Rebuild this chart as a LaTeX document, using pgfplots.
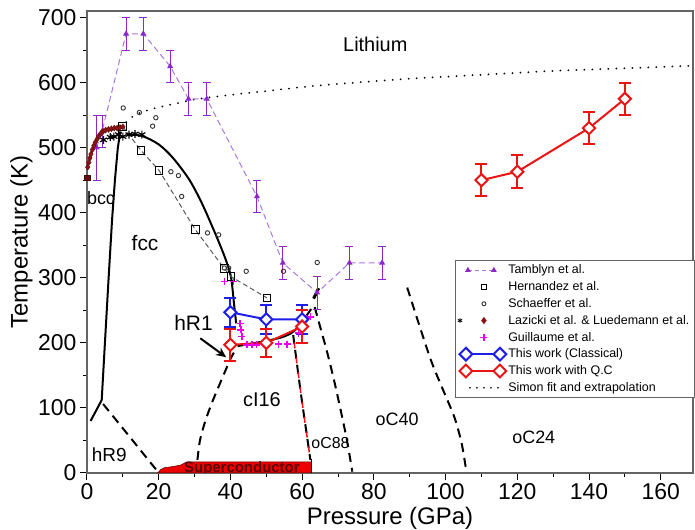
\documentclass[border=0pt]{standalone}
\usepackage{pgfplots}
\pgfplotsset{compat=1.18}
\usepackage{fontspec}
\setmainfont{Liberation Sans}
\usetikzlibrary{arrows.meta}
\definecolor{tline}{RGB}{170,120,225}
\definecolor{tmark}{RGB}{140,40,200}
\definecolor{dred}{RGB}{140,20,20}
\definecolor{gline}{RGB}{90,90,90}
\definecolor{myblue}{RGB}{30,30,235}
\definecolor{myred}{RGB}{235,20,20}
\definecolor{mymag}{RGB}{235,0,235}
\definecolor{scred}{RGB}{235,0,0}
\definecolor{sctext}{RGB}{90,0,0}
\definecolor{axgray}{RGB}{100,100,100}
\tikzset{phase/.style={black, line width=2bp, dash pattern=on 9bp off 6bp}}
\begin{document}
\begin{tikzpicture}
\begin{axis}[
  scale only axis, width=606bp, height=462bp,
  xmin=0, xmax=169, ymin=0, ymax=710,
  xtick={0,20,...,160}, minor xtick={10,30,...,150},
  ytick={0,100,...,700}, minor ytick={50,150,...,650},
  tick pos=left, tick align=outside,
  major tick length=7bp, minor tick length=4bp,
  axis line style={draw=axgray, line width=1.2bp},
  tick style={black, line width=1bp},
  ticklabel style={font=\fontsize{23}{23}\selectfont},
  /pgf/number format/assume math mode=true,
  xlabel={Pressure (GPa)}, ylabel={Temperature (K)},
  label style={font=\fontsize{24}{26}\selectfont, inner sep=0pt},
  xlabel style={at={(axis description cs:0.5,-0.099)}, anchor=center},
  ylabel style={at={(axis description cs:-0.108,0.5)}, anchor=center},
  legend style={at={(0.607,0.461)}, anchor=north west, draw=axgray, line width=0.8bp,
    font=\fontsize{12.5}{13}\selectfont, row sep=2.3bp, inner sep=2.5bp, cells={anchor=west}},
]
% superconductor region
\addplot[fill=scred, draw=sctext, line width=0.5bp, forget plot] coordinates {
 (19.7,0) (20.5,5) (21.5,8) (24,10) (26,12) (27.8,17) (62.6,17) (62.6,0)} -- cycle;
\addplot[black, line width=1.5bp, forget plot] coordinates {(62.6,0) (62.6,22)};
% solid phase lines
\addplot[black, line width=2bp, forget plot] coordinates {(1.0,80) (4.1,112) (5.0,200) (6.0,297) (7.0,390) (7.8,451) (8.6,500) (9.3,525)};
\addplot[black, line width=2bp, smooth, forget plot] coordinates {(11,520) (15.3,518) (20,505) (24,484) (28.5,451) (32,415) (35.3,374) (37.5,345) (39,323) (40.2,300) (41,260) (41.6,230)};
\addplot[black, line width=2bp, smooth, forget plot] coordinates {(42,195) (46,199) (50,203) (54,208) (57,215) (59,225) (61,240) (62.5,252)};
\addplot[black, line width=3bp, forget plot] coordinates {(63.2,268) (64.6,284)};
% dashed phase lines
\addplot[phase, forget plot] coordinates {(4.5,106) (12,55) (19.6,3)};
\addplot[phase, smooth, forget plot] coordinates {(30.8,20) (31.5,50) (33,80) (35,110) (37.5,143) (40,175) (41.5,190)};
\addplot[phase, smooth, forget plot] coordinates {(57.5,212) (58.5,170) (59.7,120) (61,70) (62.3,20)};
\addplot[myred, line width=1.5bp, dash pattern=on 6bp off 9bp, dash phase=7.5bp, smooth, forget plot] coordinates {(57.5,212) (58.5,170) (59.7,120) (61,70) (62.3,20)};
\addplot[phase, smooth, forget plot] coordinates {(63.5,255) (65,225) (67,185) (69,140) (71,90) (72.5,50) (74,2)};
\addplot[phase, smooth, forget plot] coordinates {(89.3,285) (92.5,230) (96,172) (99.5,125) (102.5,85) (104.5,45) (105.8,2)};
% Simon fit
\addplot[black, line width=2bp, line cap=round, dash pattern=on 0bp off 8bp, smooth, forget plot] coordinates {
 (9.5,530) (12,545) (15,554) (20,562) (25,568) (30,574) (40,581) (50,587) (60,593) (70,598) (80,602)
 (90,606) (100,609) (110,612) (120,615) (130,618) (140,620) (150,622) (160,624) (169,626)};
% Tamblyn
\addplot[tline, line width=1bp, dash pattern=on 6bp off 3.5bp, mark=triangle*, mark size=2.5bp,
  mark options={solid, fill=tmark, draw=tmark}, forget plot,
  error bars/.cd, y dir=both, y explicit,
  error bar style={tmark, solid, line width=1bp},
  error mark options={rotate=90, tmark, solid, mark size=4bp, line width=1bp}]
 coordinates {(2.7,500) +- (0,50) (4.2,525) +- (0,25) (10.9,675) +- (0,25) (15.7,675) +- (0,25)
 (23.2,625) +- (0,25) (28.3,575) +- (0,25) (33.4,575) +- (0,25) (47.4,425) +- (0,25)
 (54.6,323) +- (0,25) (64.2,277) +- (0,25) (73.2,323) +- (0,25) (82.3,323) +- (0,25)};
% Hernandez
\addplot[gline, line width=1bp, dash pattern=on 5bp off 3bp, mark=square, mark size=3.8bp,
  mark options={solid, black, line width=0.9bp}, forget plot]
 coordinates {(9.9,533) (15,496) (20.1,465) (30.2,374) (38.3,314) (40.1,302) (50.2,269)};
\addplot[only marks, mark=square*, mark size=2.8bp, mark options={fill=dred!70!black, draw=dred!50!black}, forget plot]
 coordinates {(0,454)};
% Schaeffer
\addplot[only marks, mark=o, mark size=2.2bp, mark options={black!80, line width=0.9bp}, forget plot]
 coordinates {(10.1,561) (14.6,554) (19.2,546) (18.3,533) (23.4,463) (25.5,457) (26.4,425)
 (33.6,369) (36.7,366) (38.3,315) (39.5,315) (44.4,310) (54.8,310) (64.2,323.5)};
% Lazicki (diamonds) & Luedemann (stars)
\addplot[only marks, mark=diamond*, mark size=3bp, mark options={fill=dred, draw=dred!70!black}, forget plot]
 coordinates {(0.2,470) (0.5,477) (0.8,484) (1.1,490) (1.5,497) (1.9,503) (2.3,508) (2.8,513)
 (3.3,518) (3.9,522) (4.5,525) (5.2,527) (6.0,528) (6.8,529) (7.6,530) (8.4,530) (9.2,531) (10,532)};
\addplot[only marks, mark=asterisk, mark size=4bp, mark options={black, line width=1.2bp}, forget plot]
 coordinates {(4.6,512) (6.5,516) (7.5,517) (8.8,520) (10,517) (11.7,520) (13.4,521) (15.3,520)};
% Guillaume
\addplot[only marks, mark=+, mark size=3.5bp, mark options={mymag, line width=1.4bp}, forget plot]
 coordinates {(38.3,294) (40.9,294) (42.7,230) (42.9,220) (43.2,210) (44.6,197) (46,197) (47.3,197)
 (53.4,198) (55.8,198) (59,215) (61.2,238) (62.3,240)};
% This work classical
\addplot[myblue, line width=2bp, mark=square*, mark size=4.3bp, mark options={rotate=45, fill=white}, forget plot,
  error bars/.cd, y dir=both, y explicit,
  error bar style={myblue, line width=2bp},
  error mark options={rotate=90, myblue, mark size=6bp, line width=2bp}]
 coordinates {(40,247) +- (0,22) (50,236) +- (0,22) (60,236) +- (0,22)};
% This work with Q.C
\addplot[myred, line width=2bp, mark=square*, mark size=4.3bp, mark options={rotate=45, fill=white}, forget plot,
  error bars/.cd, y dir=both, y explicit,
  error bar style={myred, line width=2bp},
  error mark options={rotate=90, myred, mark size=6bp, line width=2bp}]
 coordinates {(40,197) +- (0,25) (50,200) +- (0,22) (60,225) +- (0,25)};
\addplot[myred, line width=2bp, mark=square*, mark size=4.3bp, mark options={rotate=45, fill=white}, forget plot,
  error bars/.cd, y dir=both, y explicit,
  error bar style={myred, line width=2bp},
  error mark options={rotate=90, myred, mark size=6bp, line width=2bp}]
 coordinates {(110,450) +- (0,25) (120,463) +- (0,25) (140,530) +- (0,25) (150,575) +- (0,25)};
% annotations
\draw[-{Stealth[length=10bp,width=9bp]}, line width=2bp] (axis cs:31.6,207) -- (axis cs:38.8,178);
\node[font=\fontsize{20}{20}\selectfont] at (axis cs:80.4,659) {Lithium};
\node[font=\fontsize{18}{18}\selectfont] at (axis cs:3.9,423) {bcc};
\node[font=\fontsize{21}{21}\selectfont] at (axis cs:16.2,353) {fcc};
\node[font=\fontsize{21}{21}\selectfont] at (axis cs:29.7,230) {hR1};
\node[font=\fontsize{20}{20}\selectfont] at (axis cs:48.8,112) {cI16};
\node[font=\fontsize{19}{19}\selectfont] at (axis cs:6.2,28) {hR9};
\node[font=\fontsize{16}{16}\selectfont] at (axis cs:67.9,46) {oC88};
\node[font=\fontsize{18}{18}\selectfont] at (axis cs:86.5,82) {oC40};
\node[font=\fontsize{18}{18}\selectfont] at (axis cs:124.6,55) {oC24};
\node[font=\bfseries\fontsize{15}{15}\selectfont, text=sctext] at (axis cs:43.2,7) {Superconductor};
% legend
\addlegendimage{legend image code/.code={
  \draw[tline, line width=1bp, dash pattern=on 4bp off 3bp] (5bp,0) -- (31bp,0);
  \draw[tmark, fill=tmark] plot[only marks, mark=triangle*, mark size=2.5bp] coordinates {(5bp,0) (31bp,0)};}}
\addlegendentry{Tamblyn et al.}
\addlegendimage{legend image code/.code={
  \draw[black, line width=1.2bp] plot[only marks, mark=square, mark size=2.5bp] coordinates {(21bp,0)};}}
\addlegendentry{Hernandez et al.}
\addlegendimage{legend image code/.code={
  \draw[black!80, line width=0.9bp] plot[only marks, mark=o, mark size=2bp] coordinates {(21bp,0)};}}
\addlegendentry{Schaeffer et al.}
\addlegendimage{legend image code/.code={
  \draw[black, line width=0.8bp] plot[only marks, mark=asterisk, mark size=2.5bp] coordinates {(-3bp,0)};
  \draw[dred, fill=dred] plot[only marks, mark=diamond*, mark size=3bp] coordinates {(21bp,0)};}}
\addlegendentry{Lazicki et al. \& Luedemann et al.}
\addlegendimage{legend image code/.code={
  \draw[mymag, line width=1.4bp] plot[only marks, mark=+, mark size=3.5bp] coordinates {(21bp,0)};}}
\addlegendentry{Guillaume et al.}
\addlegendimage{legend image code/.code={
  \draw[myblue, line width=2bp] (3bp,0) -- (37bp,0);
  \draw[myblue, line width=2bp, fill=white] plot[only marks, mark=square*, mark size=4.5bp, mark options={rotate=45}] coordinates {(3bp,0) (37bp,0)};}}
\addlegendentry{This work (Classical)}
\addlegendimage{legend image code/.code={
  \draw[myred, line width=2bp] (3bp,0) -- (37bp,0);
  \draw[myred, line width=2bp, fill=white] plot[only marks, mark=square*, mark size=4.5bp, mark options={rotate=45}] coordinates {(3bp,0) (37bp,0)};}}
\addlegendentry{This work with Q.C}
\addlegendimage{legend image code/.code={
  \draw[black, line width=1.8bp, line cap=round, dash pattern=on 0bp off 7bp] (7bp,0) -- (36bp,0);}}
\addlegendentry{Simon fit and extrapolation}
\end{axis}
\pgfresetboundingbox
\path ([shift={(-87bp,-57bp)}]current axis.south west) rectangle ([shift={(2bp,11bp)}]current axis.north east);
\end{tikzpicture}
\end{document}
